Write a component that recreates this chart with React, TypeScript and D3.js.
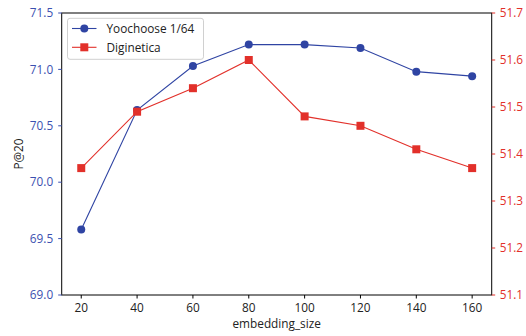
import React from "react";
import * as d3 from "d3";

const sizes = [20, 40, 60, 80, 100, 120, 140, 160];
const yoochoose = [69.58, 70.64, 71.03, 71.22, 71.22, 71.19, 70.98, 70.94];
const diginetica = [51.37, 51.49, 51.54, 51.6, 51.48, 51.46, 51.41, 51.37];
const leftTicks = [69.0, 69.5, 70.0, 70.5, 71.0, 71.5];
const rightTicks = [51.1, 51.2, 51.3, 51.4, 51.5, 51.6, 51.7];
const seriesNames = ["Yoochoose 1/64", "Diginetica"];

const W = 526, H = 336;
const L = 61.7, R = 491.7, T = 13, B = 295;
const BLUE = "#2f44a3";
const BLUE_T = "#3b50b0";
const RED = "#e2302a";
const FONT = "'Open Sans', 'Noto Sans', sans-serif";

export default function App() {
  const x = d3.scaleLinear().domain([13, 167]).range([L, R]);
  const yl = d3.scaleLinear().domain([69, 71.5]).range([B, T]);
  const yr = d3.scaleLinear().domain([51.1, 51.7]).range([B, T]);
  const lineL = d3.line<number>().x((_, i) => x(sizes[i])).y((d) => yl(d));
  const lineR = d3.line<number>().x((_, i) => x(sizes[i])).y((d) => yr(d));
  const fs = 11.8;
  return (
    <svg width={W} height={H} style={{ position: "absolute", left: 0, top: 0, background: "#fff" }} fontFamily={FONT}>
      <path d={lineL(yoochoose) || ""} fill="none" stroke={BLUE} strokeWidth={1.1} />
      <path d={lineR(diginetica) || ""} fill="none" stroke={RED} strokeWidth={1.1} />
      {yoochoose.map((v, i) => (
        <circle key={"c" + i} cx={x(sizes[i])} cy={yl(v)} r={4} fill={BLUE} />
      ))}
      {diginetica.map((v, i) => (
        <rect key={"s" + i} x={x(sizes[i]) - 4} y={yr(v) - 4} width={8} height={8} fill={RED} />
      ))}
      <rect x={L} y={T} width={R - L} height={B - T} fill="none" stroke="#000" strokeWidth={1} />
      {leftTicks.map((t) => (
        <g key={"l" + t}>
          <line x1={L - 3.5} x2={L} y1={yl(t)} y2={yl(t)} stroke={BLUE_T} />
          <text x={L - 8.5} y={yl(t)} dy="0.36em" textAnchor="end" fontSize={fs} fill={BLUE_T}>{t.toFixed(1)}</text>
        </g>
      ))}
      {rightTicks.map((t) => (
        <g key={"r" + t}>
          <line x1={R} x2={R + 3.5} y1={yr(t)} y2={yr(t)} stroke={RED} />
          <text x={R + 8} y={yr(t)} dy="0.36em" textAnchor="start" fontSize={fs} fill={RED}>{t.toFixed(1)}</text>
        </g>
      ))}
      {sizes.map((s) => (
        <g key={"x" + s}>
          <line x1={x(s)} x2={x(s)} y1={B} y2={B + 3.5} stroke="#000" />
          <text x={x(s)} y={B + 17} textAnchor="middle" fontSize={fs} fill="#222">{s}</text>
        </g>
      ))}
      <text x={(L + R) / 2} y={B + 33} textAnchor="middle" fontSize={fs} fill="#222">embedding_size</text>
      <text transform={`translate(22.5,${(T + B) / 2}) rotate(-90)`} textAnchor="middle" fontSize={fs} fill="#222">P@20</text>
      <rect x={67.5} y={18.3} width={136} height={41} rx={2.5} fill="#fff" fillOpacity={0.8} stroke="#d0d0d0" />
      {seriesNames.map((n, i) => {
        const yy = 28.5 + i * 18.8;
        const c = i === 0 ? BLUE : RED;
        return (
          <g key={n}>
            <line x1={72} x2={96.5} y1={yy} y2={yy} stroke={c} strokeWidth={1.1} />
            {i === 0 ? (
              <circle cx={84.3} cy={yy} r={4} fill={c} />
            ) : (
              <rect x={80.3} y={yy - 4} width={8} height={8} fill={c} />
            )}
            <text x={106.5} y={yy} dy="0.36em" fontSize={fs} fill="#222">{n}</text>
          </g>
        );
      })}
    </svg>
  );
}
